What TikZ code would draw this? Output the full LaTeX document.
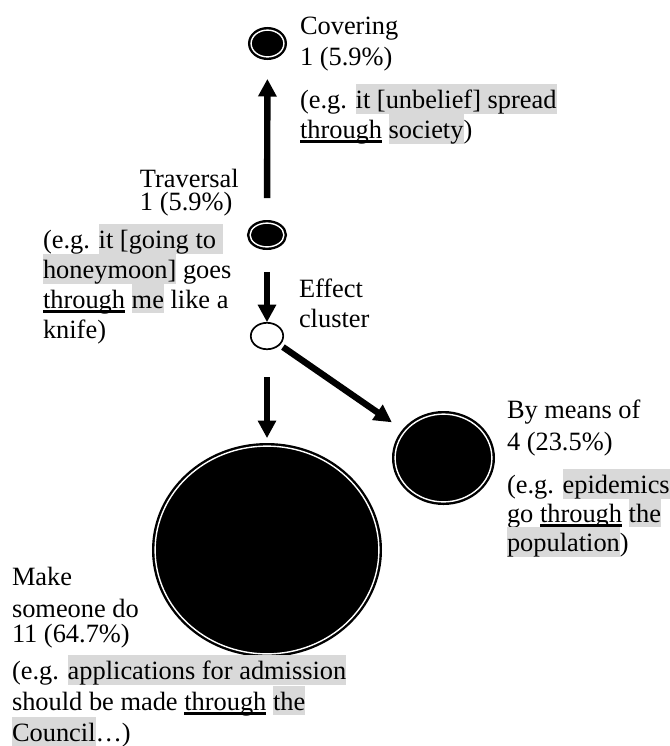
\documentclass[tikz,border=0pt]{standalone}
\usepackage{fontspec}
\setmainfont{Liberation Serif}
\usetikzlibrary{arrows.meta,shapes.geometric}
\definecolor{hlgray}{RGB}{217,217,217}
\setlength{\lineskiplimit}{-20pt}
\newsavebox\ulbox
\newcommand\hlt[1]{{\setlength{\fboxsep}{0pt}\colorbox{hlgray}{\rule[-2.5pt]{0pt}{14.5pt}#1}}}
\newcommand\uln[1]{\sbox\ulbox{#1}\rlap{\rule[-2.3pt]{\wd\ulbox}{1.1pt}}\usebox\ulbox}
\begin{document}
\begin{tikzpicture}[x=0.5pt,y=-0.5pt,
  txt/.style={anchor=base west, inner sep=0pt, outer sep=0pt, align=left,
    font=\fontsize{13.2pt}{15pt}\selectfont},
  dot/.style={ellipse, draw=black, line width=1.2pt, double=white,
    double distance=0.7pt, fill=black, inner sep=0pt, outer sep=0pt},
  hollow/.style={ellipse, draw=black, line width=0.85pt, fill=white,
    inner sep=0pt, outer sep=0pt},
  arr/.style={line width=3.2pt, -{Triangle[length=8.8pt,width=8.8pt]}}]
\useasboundingbox (0,0) rectangle (670,746);
% circles
\node[dot, minimum width=16.4pt, minimum height=13.4pt] (cov) at (267.5,43.5) {};
\node[dot, minimum width=16.9pt, minimum height=11.9pt] (trav) at (267,235) {};
\node[hollow, minimum width=16.2pt, minimum height=13.2pt] (eff) at (267,336) {};
\node[dot, minimum width=48.4pt, minimum height=43.9pt] (bym) at (443.5,458) {};
\node[dot, minimum width=111.9pt, minimum height=103.9pt] (make) at (267,550) {};
% connectors
\draw[arr, shorten <=12.5pt, shorten >=11pt] (trav) -- (cov);
\draw[arr, shorten <=12.5pt, shorten >=0.3pt] (trav) -- (eff);
\draw[arr, shorten <=14pt, shorten >=4pt] (eff) -- (make);
\draw[arr, shorten <=2.2pt, shorten >=8pt] (eff) -- (bym);
% labels (anchored at the baseline of their last line)
\node[txt] (covlab) at (300,138) {Covering\\[0.5pt]1 (5.9\%)\\[6.5pt](e.g. \hlt{it [unbelief] spread}\\\uln{through} \hlt{society})};
\node[txt] (travlab) at (140,210) {Traversal\\[-3.5pt]1 (5.9\%)};
\node[txt] (travex) at (43,338) {(e.g. \hlt{it [going to\ }\\\hlt{honeymoon]} goes\\\uln{through} \hlt{me} like a\\knife)};
\node[txt] (efflab) at (299,327) {Effect\\cluster};
\node[txt] (bymlab) at (507,551) {By means of\\[1pt]4 (23.5\%)\\[6.5pt](e.g. \hlt{epidemics}\\[-0.5pt]go \uln{through} \hlt{the}\\[-0.5pt]\hlt{population})};
\node[txt] (makelab) at (12,741) {Make\\[1pt]someone do\\[-2.5pt]11 (64.7\%)\\[3.5pt](e.g. \hlt{applications for admission}\\[0.5pt]should be made \uln{through} \hlt{the}\\[0.5pt]\hlt{Council}…)};
\end{tikzpicture}
\end{document}
